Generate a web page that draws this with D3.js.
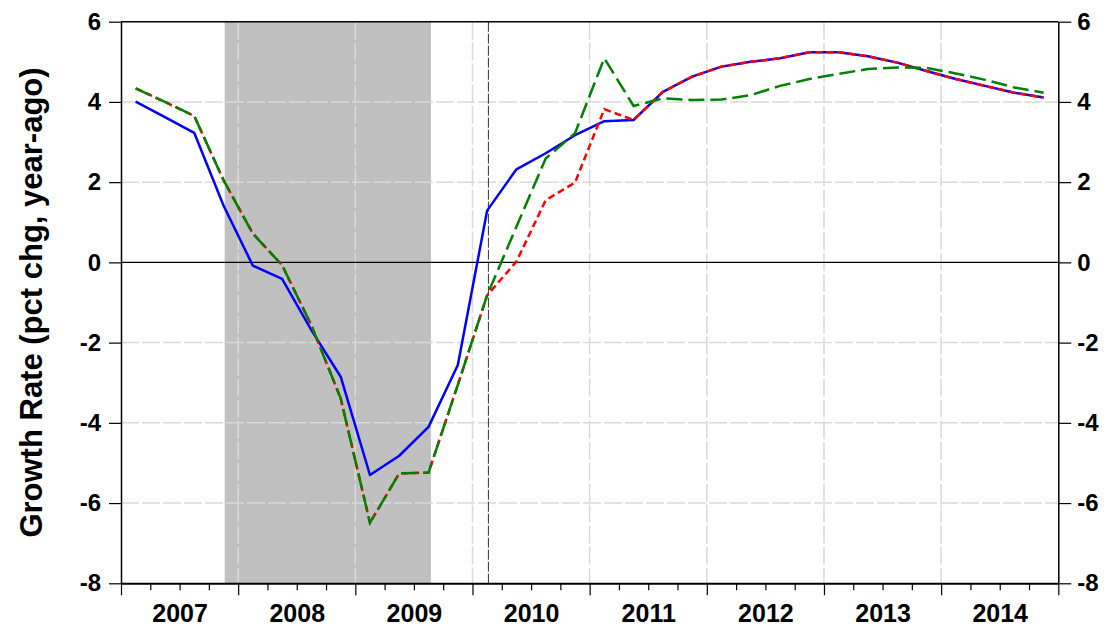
<!DOCTYPE html>
<html>
<head>
<meta charset="utf-8">
<script src="https://cdn.jsdelivr.net/npm/d3@7"></script>
<style>
  html, body { margin: 0; padding: 0; background: #fff; }
  svg { display: block; font-family: "Liberation Sans", Arial, sans-serif; }
</style>
</head>
<body>
<svg id="chart" width="1106" height="631"></svg>
<script>
// ---- data ----
const quarters = [
  "2007Q1","2007Q2","2007Q3","2007Q4","2008Q1","2008Q2","2008Q3","2008Q4",
  "2009Q1","2009Q2","2009Q3","2009Q4","2010Q1","2010Q2","2010Q3","2010Q4",
  "2011Q1","2011Q2","2011Q3","2011Q4","2012Q1","2012Q2","2012Q3","2012Q4",
  "2013Q1","2013Q2","2013Q3","2013Q4","2014Q1","2014Q2","2014Q3","2014Q4"
];
const blueSeries = [4.01, 3.62, 3.23, 1.42, -0.08, -0.41, -1.69, -2.85,
  -5.30, -4.82, -4.10, -2.56, 1.29, 2.32, 2.72, 3.17,
  3.52, 3.55, 4.25, 4.63, 4.88, 5.00, 5.09, 5.24,
  5.24, 5.14, 4.98, 4.77, 4.57, 4.40, 4.23, 4.11];
const redSeries = [4.34, 4.00, 3.65, 2.05, 0.72, -0.07, -1.57, -3.39,
  -6.49, -5.26, -5.24, -3.05, -0.82, 0.02, 1.55, 1.99,
  3.82, 3.55, 4.25, 4.63, 4.88, 5.00, 5.09, 5.24,
  5.24, 5.14, 4.98, 4.77, 4.57, 4.40, 4.23, 4.11];
const greenSeries = [4.34, 4.00, 3.65, 2.05, 0.72, -0.07, -1.57, -3.39,
  -6.49, -5.26, -5.24, -3.05, -0.82, 0.89, 2.59, 3.22,
  5.09, 3.90, 4.09, 4.05, 4.06, 4.17, 4.40, 4.57,
  4.70, 4.82, 4.86, 4.85, 4.71, 4.55, 4.36, 4.23];
const yearLabels = ["2007","2008","2009","2010","2011","2012","2013","2014"];
const yTicks = [-8, -6, -4, -2, 0, 2, 4, 6];
const recession = [2007.885, 2009.645];   // shaded band (decimal years)
const forecastMarker = 2010.136;           // dark dashed vertical line
const yTitle = "Growth Rate (pct chg, year-ago)";

// ---- layout ----
const svg = d3.select("#chart");
const L = 121, R = 1058.3, T = 21.7, B = 583.3;
const x = d3.scaleLinear().domain([2007, 2015]).range([L, R]);
const y = d3.scaleLinear().domain([-8, 6]).range([B, T]);
const qDate = q => +q.slice(0, 4) + (+q.slice(5) - 0.5) / 4;

// recession shading
svg.append("rect")
  .attr("x", x(recession[0])).attr("y", T)
  .attr("width", x(recession[1]) - x(recession[0])).attr("height", B - T)
  .attr("fill", "#c0c0c0");

// gridlines
const grid = svg.append("g").attr("stroke", "#d9d9d9").attr("stroke-width", 1.5)
  .attr("stroke-dasharray", "18,3");
grid.selectAll(".hg").data(yTicks.filter(v => v !== 0 && v !== -8 && v !== 6)).enter()
  .append("line").attr("x1", L).attr("x2", R)
  .attr("y1", d => y(d)).attr("y2", d => y(d));
const yearStarts = d3.range(2008, 2015);
grid.selectAll(".vg").data(yearStarts).enter()
  .append("line").attr("y1", T).attr("y2", B)
  .attr("x1", d => x(d)).attr("x2", d => x(d));

// zero line
svg.append("line").attr("x1", L).attr("x2", R).attr("y1", y(0)).attr("y2", y(0))
  .attr("stroke", "#000").attr("stroke-width", 1.3);

// forecast marker
svg.append("line").attr("x1", x(forecastMarker)).attr("x2", x(forecastMarker))
  .attr("y1", T).attr("y2", B)
  .attr("stroke", "#333").attr("stroke-width", 1).attr("stroke-dasharray", "10,2");

// lines
const line = d3.line().x((d, i) => x(qDate(quarters[i]))).y(d => y(d));
svg.append("path").datum(blueSeries).attr("d", line)
  .attr("fill", "none").attr("stroke", "#0000ff").attr("stroke-width", 2.5)
  .attr("stroke-linejoin", "round");
svg.append("path").datum(redSeries).attr("d", line)
  .attr("fill", "none").attr("stroke", "#ff0000").attr("stroke-width", 2.5)
  .attr("stroke-dasharray", "7,4");
svg.append("path").datum(greenSeries).attr("d", line)
  .attr("fill", "none").attr("stroke", "#008000").attr("stroke-width", 2.5)
  .attr("stroke-dasharray", "16,6");

// frame top
svg.append("line").attr("x1", L).attr("x2", R).attr("y1", T).attr("y2", T)
  .attr("stroke", "#000").attr("stroke-width", 1.5);

// axes
const fmt = d => String(d);
const leftAxis = d3.axisLeft(y).tickValues(yTicks).tickFormat(fmt).tickSize(12).tickPadding(8).tickSizeOuter(0);
const rightAxis = d3.axisRight(y).tickValues(yTicks).tickFormat(fmt).tickSize(13).tickPadding(6).tickSizeOuter(0);
const gl = svg.append("g").attr("transform", `translate(${L},0)`).call(leftAxis);
const gr = svg.append("g").attr("transform", `translate(${R},0)`).call(rightAxis);
[gl, gr].forEach(g => {
  g.selectAll("text").attr("font-size", 24).attr("font-weight", "bold").attr("fill", "#000")
    .attr("font-family", "Liberation Sans, Arial, sans-serif");
  g.select(".domain").attr("stroke-width", 1.5);
  g.selectAll(".tick line").attr("stroke-width", 1.2);
});

const quarterTicks = d3.range(2007, 2015.01, 0.25).filter(v => Math.abs(v - Math.round(v)) > 1e-6);
const gq = svg.append("g").attr("transform", `translate(0,${B})`)
  .call(d3.axisBottom(x).tickValues(quarterTicks).tickSize(7).tickFormat("").tickSizeOuter(0));
gq.select(".domain").attr("stroke-width", 2);
gq.selectAll(".tick line").attr("stroke-width", 1.2);
const gy = svg.append("g").attr("transform", `translate(0,${B})`)
  .call(d3.axisBottom(x).tickValues(d3.range(2007, 2016)).tickSize(12).tickFormat("").tickSizeOuter(0));
gy.select(".domain").remove();
gy.selectAll(".tick line").attr("stroke-width", 1.2);
const glab = svg.append("g").attr("transform", `translate(0,${B})`)
  .call(d3.axisBottom(x).tickValues(yearLabels.map(v => +v + 0.5))
    .tickFormat((d, i) => yearLabels[i]).tickSize(0).tickPadding(21));
glab.select(".domain").remove();
glab.selectAll("text").attr("font-size", 25).attr("font-weight", "bold").attr("fill", "#000")
  .attr("font-family", "Liberation Sans, Arial, sans-serif");

// y title
svg.append("text")
  .attr("transform", `translate(42,${(T + B) / 2}) rotate(-90)`)
  .attr("text-anchor", "middle")
  .attr("font-size", 31).attr("font-weight", "bold")
  .text(yTitle);
</script>
</body>
</html>
